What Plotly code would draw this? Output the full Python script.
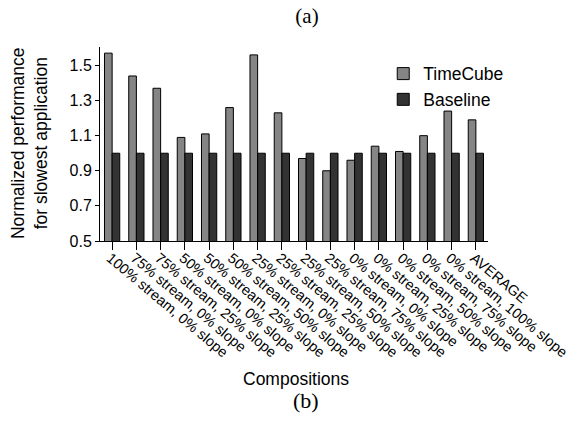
import plotly.graph_objects as go

categories = [
    "100% stream, 0% slope", "75% stream, 0% slope", "75% stream, 25% slope",
    "50% stream, 0% slope", "50% stream, 25% slope", "50% stream, 50% slope",
    "25% stream, 0% slope", "25% stream, 25% slope", "25% stream, 50% slope",
    "25% stream, 75% slope", "0% stream, 0% slope", "0% stream, 25% slope",
    "0% stream, 50% slope", "0% stream, 75% slope", "0% stream, 100% slope",
    "AVERAGE",
]
timecube = [1.57, 1.44, 1.37, 1.09, 1.11, 1.26, 1.56, 1.23,
            0.97, 0.90, 0.96, 1.04, 1.01, 1.10, 1.24, 1.19]
baseline = [1.0] * 16
y_ticks = [0.5, 0.7, 0.9, 1.1, 1.3, 1.5]

SANS = "Liberation Sans, Arial, sans-serif"
SERIF = "Liberation Serif, Times New Roman, serif"

W, H = 573, 423

fig = go.Figure()
fig.add_trace(go.Bar(x=categories, y=timecube, name="TimeCube",
                     marker=dict(color="#858585", line=dict(color="#000000", width=1))))
fig.add_trace(go.Bar(x=categories, y=baseline, name="Baseline",
                     marker=dict(color="#333333", line=dict(color="#000000", width=1))))

fig.update_layout(
    width=W, height=H,
    margin=dict(l=100, r=85, t=47, b=182),
    paper_bgcolor="white", plot_bgcolor="white",
    barmode="group", bargap=0.37, bargroupgap=0,
    font=dict(family=SANS, color="#000000"),
    title=dict(text="(a)", x=307 / W, xref="container", xanchor="center",
               y=1 - 16 / H, yref="container", yanchor="middle",
               font=dict(family=SERIF, size=21, color="#000000")),
    legend=dict(x=0.73, y=0.955, xanchor="left", yanchor="top",
                bgcolor="rgba(0,0,0,0)", font=dict(size=17.5, family=SANS),
                itemclick=False),
    showlegend=True,
)
fig.update_xaxes(
    showline=True, linecolor="#000000", linewidth=1,
    ticks="outside", ticklen=8, tickcolor="#000000", tickwidth=1,
    tickangle=40, tickfont=dict(size=14.5, family=SANS),
    ticklabelstandoff=-6, ticklabelshift=-2,
    showgrid=False, range=[-0.5, 15.5], automargin=False,
)
fig.update_yaxes(
    showline=True, linecolor="#000000", linewidth=1,
    ticks="outside", ticklen=4, tickcolor="#000000",
    tickvals=y_ticks, ticktext=[f"{v:.1f}" for v in y_ticks],
    tickfont=dict(size=16, family=SANS),
    showgrid=False, zeroline=False, range=[0.5, 1.605], automargin=False,
)
fig.add_annotation(text="Normalized performance<br>for slowest application",
                   xref="paper", yref="paper", x=(29 - 100) / 388, y=0.505,
                   textangle=-90, showarrow=False, xanchor="center", yanchor="middle",
                   font=dict(size=17.5, family=SANS))
fig.add_annotation(text="Compositions", xref="paper", yref="paper",
                   x=(296 - 100) / 388, y=(241 - 379) / 194, showarrow=False,
                   xanchor="center", yanchor="middle", font=dict(size=17.5, family=SANS))
fig.add_annotation(text="(b)", xref="paper", yref="paper",
                   x=(306 - 100) / 388, y=(241 - 400) / 194, showarrow=False,
                   xanchor="center", yanchor="middle", font=dict(size=22, family=SERIF))

# remove the browser's default 8px page margin so the figure fills the window
fig.write_html("out.html", config={"displayModeBar": False},
               post_script="document.body.style.margin='0';document.body.style.overflow='hidden';")
